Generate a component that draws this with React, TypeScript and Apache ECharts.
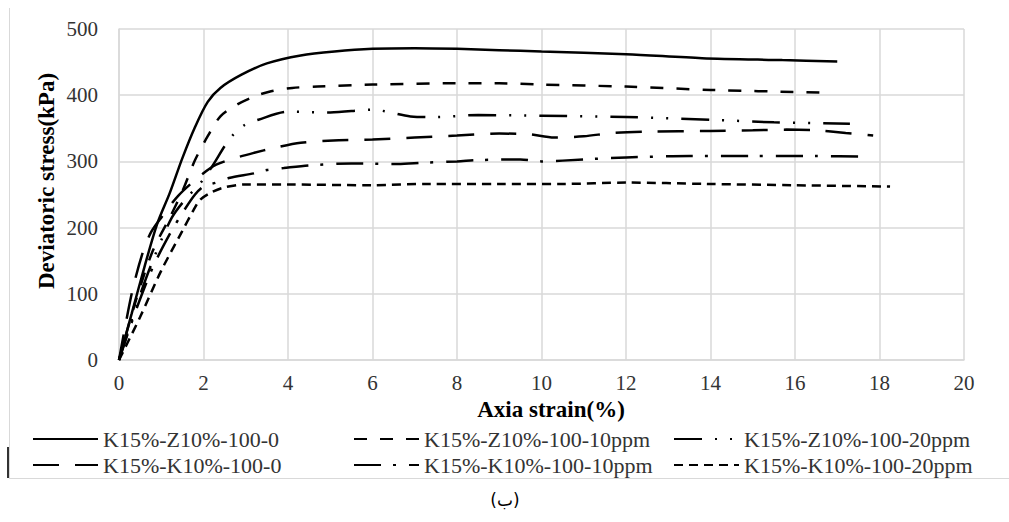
import React, { useEffect, useRef } from "react";
import * as echarts from "echarts";

const seriesNames = [
  "K15%-Z10%-100-0",
  "K15%-Z10%-100-10ppm",
  "K15%-Z10%-100-20ppm",
  "K15%-K10%-100-0",
  "K15%-K10%-100-10ppm",
  "K15%-K10%-100-20ppm",
];

const s1Strain = [0, 0.3, 0.6, 0.9, 1.2, 1.5, 1.8, 2.1, 2.4, 2.9, 3.5, 4.3, 5.1, 6, 7, 8, 9, 10, 12, 13.8, 15.7, 17];
const s1Stress = [0, 70, 140, 205, 252, 305, 352, 390, 411, 431, 448, 460, 466, 470, 471, 470, 468, 466, 462, 456, 453, 451];

const s2Strain = [0, 0.4, 0.8, 1.2, 1.5, 1.8, 2.1, 2.4, 2.8, 3.2, 3.6, 4.1, 4.7, 6, 8, 9, 10, 12, 14, 16.6];
const s2Stress = [0, 90, 165, 215, 255, 302, 338, 368, 386, 398, 406, 411, 413, 416, 418, 418, 416, 413, 408, 404];

const s3Strain = [0, 0.4, 0.8, 1.25, 1.6, 1.9, 2.2, 2.5, 2.7, 2.95, 3.3, 4, 5, 6, 6.9, 7.5, 8.5, 10, 12, 14, 15.5, 17.3];
const s3Stress = [0, 80, 150, 215, 245, 265, 292, 323, 340, 354, 363, 375, 374, 378, 368, 367, 370, 369, 367, 363, 359, 357];

const s4Strain = [0, 0.3, 0.55, 0.75, 1, 1.4, 1.9, 2.3, 2.8, 3.2, 3.65, 4.3, 5.2, 6, 7, 8, 9, 9.7, 10.3, 11, 11.7, 12.5, 14, 15, 15.8, 16.5, 17.2, 17.85];
const s4Stress = [0, 100, 160, 192, 215, 248, 277, 295, 306, 313, 320, 328, 332, 333, 336, 339, 342, 341, 336, 338, 343, 345, 346, 347, 348, 347, 343, 339];

const s5Strain = [0, 0.4, 0.8, 1.2, 1.5, 1.8, 2, 2.3, 2.6, 3.2, 3.5, 3.9, 4.5, 5.5, 6.6, 7.2, 8, 8.5, 9.5, 10, 11, 12, 13.5, 15, 16.5, 17.75];
const s5Stress = [0, 75, 140, 190, 222, 250, 262, 268, 275, 282, 287, 290, 294, 297, 296, 298, 300, 302, 303, 300, 303, 306, 308, 308, 308, 307];

const s6Strain = [0, 0.5, 1, 1.5, 1.75, 1.92, 2.15, 2.45, 2.95, 4, 6, 7.3, 9, 10.5, 12, 13.9, 16, 18.25];
const s6Stress = [0, 65, 135, 195, 225, 242, 252, 260, 265, 265, 264, 266, 266, 266, 268, 266, 264, 262];

const strainSets = [s1Strain, s2Strain, s3Strain, s4Strain, s5Strain, s6Strain];
const stressSets = [s1Stress, s2Stress, s3Stress, s4Stress, s5Stress, s6Stress];

const dashPatterns: any[] = [
  "solid",
  [13, 13],
  [28, 13, 2, 13, 2, 13],
  [26, 16],
  [27, 12, 3, 13],
  [9, 6],
];

const xTitle = "Axia strain(%)";
const yTitle = "Deviatoric stress(kPa)";
const caption = "(ب)";

const SERIF = "'Liberation Serif', 'Times New Roman', serif";

export default function App() {
  const ref = useRef<HTMLDivElement>(null);
  useEffect(() => {
    document.body.style.margin = "0";
    if (!ref.current) return;
    const chart = echarts.init(ref.current, undefined, { renderer: "svg" });
    const series = seriesNames.map((name, i) => ({
      name,
      type: "line",
      data: strainSets[i].map((x, j) => [x, stressSets[i][j]]),
      symbol: "none",
      showSymbol: false,
      smooth: 0.3,
      lineStyle: { color: "#000", width: 2.5, type: dashPatterns[i], cap: "butt" },
      itemStyle: { color: "#000" },
    }));
    const legendBase = {
      orient: "vertical",
      top: 428,
      padding: 0,
      itemWidth: 65,
      itemHeight: 14,
      itemGap: 4,
      itemStyle: { opacity: 0 },
      textStyle: { fontFamily: SERIF, fontSize: 22, lineHeight: 22, color: "#333" },
    };
    chart.setOption({
      animation: false,
      backgroundColor: "#fff",
      grid: { left: 119, right: 45, top: 29, bottom: 162, containLabel: false },
      xAxis: {
        type: "value",
        min: 0,
        max: 20,
        interval: 2,
        axisLine: { show: true, lineStyle: { color: "#d9d9d9", width: 1.5 } },
        axisTick: { show: false },
        splitLine: { show: true, lineStyle: { color: "#d9d9d9", width: 1.5 } },
        axisLabel: { fontFamily: SERIF, fontSize: 21, color: "#333", margin: 12 },
      },
      yAxis: {
        type: "value",
        min: 0,
        max: 500,
        interval: 100,
        axisLine: { show: true, lineStyle: { color: "#d9d9d9", width: 1.5 } },
        axisTick: { show: false },
        splitLine: { show: true, lineStyle: { color: "#d9d9d9", width: 1.5 } },
        axisLabel: { fontFamily: SERIF, fontSize: 21, color: "#333", margin: 21 },
      },
      legend: [
        { ...legendBase, left: 32, data: [seriesNames[0], seriesNames[3]] },
        { ...legendBase, left: 353, data: [seriesNames[1], seriesNames[4]] },
        { ...legendBase, left: 673, data: [seriesNames[2], seriesNames[5]] },
      ],
      graphic: [
        {
          type: "line",
          shape: { x1: 9.5, y1: 8, x2: 9.5, y2: 478 },
          style: { stroke: "#d9d9d9", lineWidth: 1 },
        },
        {
          type: "line",
          shape: { x1: 9, y1: 478.5, x2: 1009, y2: 478.5 },
          style: { stroke: "#d9d9d9", lineWidth: 1 },
        },
        {
          type: "line",
          shape: { x1: 8, y1: 447, x2: 8, y2: 478 },
          style: { stroke: "#333", lineWidth: 2 },
        },
        {
          type: "text",
          x: 551,
          y: 409,
          style: {
            text: xTitle,
            font: "bold 23px " + SERIF,
            fill: "#000",
            align: "center",
            verticalAlign: "middle",
          },
        },
        {
          type: "text",
          x: 46,
          y: 181,
          rotation: Math.PI / 2,
          style: {
            text: yTitle,
            font: "bold 23px " + SERIF,
            fill: "#000",
            align: "center",
            verticalAlign: "middle",
          },
        },
        {
          type: "text",
          x: 505,
          y: 500,
          style: {
            text: caption,
            font: "17px 'DejaVu Sans', sans-serif",
            fill: "#000",
            align: "center",
            verticalAlign: "middle",
          },
        },
      ],
      series,
    });
    return () => chart.dispose();
  }, []);
  return <div ref={ref} style={{ width: 1009, height: 522 }} />;
}
